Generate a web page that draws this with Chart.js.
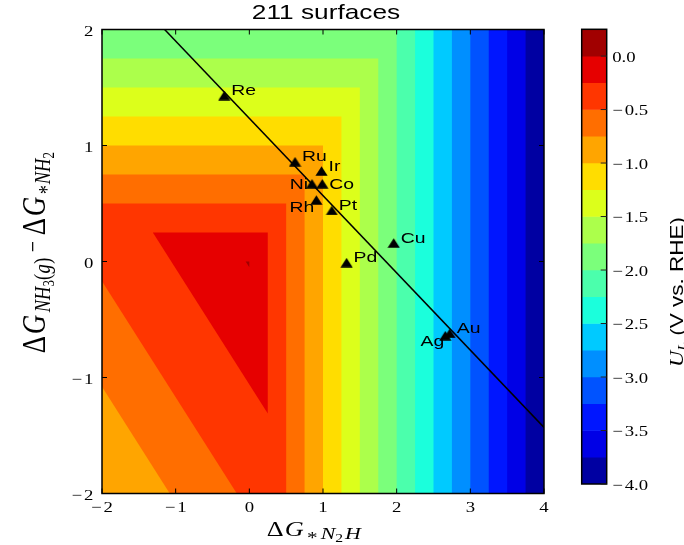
<!DOCTYPE html>
<html>
<head>
<meta charset="utf-8">
<script src="https://cdn.jsdelivr.net/npm/chart.js@4.4.1/dist/chart.umd.min.js"></script>
<style>
  html, body { margin: 0; background: #fff; }
  #wrap { position: relative; width: 684px; height: 545px; }
  #wrap canvas { position: absolute; left: 0; top: 0; }
</style>
</head>
<body>
<div id="wrap">
  <canvas id="main" width="684" height="545"></canvas>
  <canvas id="cbar" width="684" height="545"></canvas>
</div>
<script>
// ---------- data ----------
const metals = ["Re", "Ru", "Ir", "Ni", "Co", "Rh", "Pt", "Cu", "Pd", "Au", "Ag"];
const dG_N2H = [-0.34, 0.62, 0.98, 0.85, 0.99, 0.91, 1.12, 1.96, 1.32, 2.72, 2.66];
const dG_NH3 = [1.43, 0.86, 0.78, 0.67, 0.67, 0.53, 0.44, 0.16, -0.01, -0.62, -0.64];

// scaling line
const scalingX = [-1.15, 4];
const scalingY = [2, -1.43];

// contour levels of U_L, top of the colorbar first
const levels = [0.25, 0, -0.25, -0.5, -0.75, -1, -1.25, -1.5, -1.75, -2,
                -2.25, -2.5, -2.75, -3, -3.25, -3.5, -3.75, -4];
// the diagonal contour edges in the lower left (value of x+y where they sit)
const diagLevels = [0, -0.25, -0.5, -0.75];
const diagEdges = [-0.05, -1.06, -2.17, -3.08];

const xRange = [-2, 4];
const yRange = [-2, 2];
const xTicks = [-2, -1, 0, 1, 2, 3, 4];
const yTicks = [-2, -1, 0, 1, 2];
const cbTicks = [0, -0.5, -1, -1.5, -2, -2.5, -3, -3.5, -4];

// jet colours of the 17 bands, top (0..0.25) to bottom (-4..-3.75)
const bandColors = ["#a10000", "#e60000", "#ff3600", "#ff6e00", "#ffa500", "#ffdd00",
  "#dcff1b", "#acff4b", "#7bff7b", "#4bffac", "#1bffdc", "#00caff", "#008fff",
  "#0053ff", "#0016ff", "#0000e6", "#0000a2"];

const SERIF = '"Liberation Serif", "Times New Roman", serif';
const SANS = '"Liberation Sans", Arial, sans-serif';
const SX = 1.25; // the figure's text is drawn a bit wide

// ---------- helpers ----------
function clipPoly(poly, a, b, c) { // keep a*x + b*y <= c
  const out = [];
  for (let i = 0; i < poly.length; i++) {
    const p = poly[i], q = poly[(i + 1) % poly.length];
    const fp = a * p.x + b * p.y - c, fq = a * q.x + b * q.y - c;
    if (fp <= 0) out.push(p);
    if ((fp < 0 && fq > 0) || (fp > 0 && fq < 0)) {
      const t = fp / (fp - fq);
      out.push({ x: p.x + t * (q.x - p.x), y: p.y + t * (q.y - p.y) });
    }
  }
  return out;
}

// region where U_L >= lower edge of band k
function bandPolygon(k) {
  const L = levels[k + 1];
  let poly = [
    { x: xRange[0], y: yRange[0] }, { x: xRange[1], y: yRange[0] },
    { x: xRange[1], y: yRange[1] }, { x: xRange[0], y: yRange[1] }
  ];
  poly = clipPoly(poly, 1, 0, -L);
  poly = clipPoly(poly, 0, 1, -L);
  const i = diagLevels.indexOf(L);
  if (i >= 0) poly = clipPoly(poly, -1, -1, -diagEdges[i]);
  return poly;
}

// draw a run of text pieces; rotated runs read bottom-to-top
// p.at = fixed offset along the run (in run units) for math layout
function drawRun(ctx, x, y, pieces, opts = {}) {
  ctx.save();
  let total = 0;
  for (const p of pieces) {
    ctx.font = p.font;
    if (p.at !== undefined) total = p.at;
    total += ctx.measureText(p.text).width + (p.gap || 0);
  }
  ctx.translate(x, y);
  if (opts.rotate) {
    if (opts.along) { ctx.rotate(-Math.PI / 2); ctx.scale(SX, 1); }
    else { ctx.scale(SX, 1); ctx.rotate(-Math.PI / 2); }
  } else {
    ctx.scale(SX, 1);
  }
  let start = 0;
  if (opts.align === "center") start = -total / 2;
  if (opts.align === "right") start = -total;
  let cx = start;
  ctx.fillStyle = "#000";
  ctx.textBaseline = "alphabetic";
  ctx.textAlign = "left";
  for (const p of pieces) {
    ctx.font = p.font;
    if (p.at !== undefined) cx = start + p.at;
    ctx.fillText(p.text, cx, p.dy || 0);
    cx += ctx.measureText(p.text).width + (p.gap || 0);
  }
  ctx.restore();
}

function numPieces(v, digits) {
  const s = Math.abs(v).toFixed(digits);
  const f = "15px " + SERIF;
  if (v < 0) return [{ text: "\u2212", font: f, gap: 1.5 }, { text: s, font: f }];
  return [{ text: s, font: f }];
}

// triangle marker, a bit wider than tall like the figure
const tri = document.createElement("canvas");
tri.width = 13; tri.height = 10;
const tctx = tri.getContext("2d");
tctx.beginPath();
tctx.moveTo(6.5, 0.3); tctx.lineTo(12.6, 9.7); tctx.lineTo(0.4, 9.7);
tctx.closePath();
tctx.fillStyle = "#000";
tctx.fill();

const labelPlace = {
  Ni: { dx: -4, dy: 0, align: "right" },
  Co: { dx: 7, dy: 0, align: "left" },
  Rh: { dx: -2, dy: 6, align: "right" },
  Ag: { dx: -1, dy: 5, align: "right" }
};

// ---------- main plot ----------
const contourPlugin = {
  id: "contour",
  beforeDatasetsDraw(chart) {
    const ctx = chart.ctx;
    ctx.save();
    for (let k = bandColors.length - 1; k >= 0; k--) {
      const pts = chart.getDatasetMeta(k).data;
      if (pts.length < 3) continue;
      ctx.beginPath();
      pts.forEach((p, i) => i ? ctx.lineTo(p.x, p.y) : ctx.moveTo(p.x, p.y));
      ctx.closePath();
      ctx.fillStyle = bandColors[k];
      ctx.fill();
    }
    ctx.restore();
  },
  afterDatasetsDraw(chart) {
    const ctx = chart.ctx;
    const a = chart.chartArea;
    const xs = chart.scales.x, ys = chart.scales.y;
    ctx.save();
    ctx.strokeStyle = "#000";
    ctx.lineWidth = 1.5;
    ctx.strokeRect(a.left, a.top, a.right - a.left, a.bottom - a.top);
    ctx.lineWidth = 1;
    ctx.beginPath();
    xTicks.forEach(v => {
      const px = xs.getPixelForValue(v);
      ctx.moveTo(px, a.bottom); ctx.lineTo(px, a.bottom - 5);
      ctx.moveTo(px, a.top); ctx.lineTo(px, a.top + 5);
    });
    yTicks.forEach(v => {
      const py = ys.getPixelForValue(v);
      ctx.moveTo(a.left, py); ctx.lineTo(a.left + 5, py);
      ctx.moveTo(a.right, py); ctx.lineTo(a.right - 5, py);
    });
    ctx.stroke();
    ctx.restore();

    // metal labels
    const idx = chart.data.datasets.findIndex(d => d.label === "metals");
    const pts = chart.getDatasetMeta(idx).data;
    pts.forEach((p, i) => {
      const pl = labelPlace[metals[i]] || { dx: 7, dy: -6, align: "left" };
      drawRun(ctx, p.x + pl.dx, p.y + pl.dy + 5.6,
        [{ text: metals[i], font: "15.5px " + SANS }], { align: pl.align });
    });
  },
  afterDraw(chart) {
    const ctx = chart.ctx;
    const a = chart.chartArea;
    const xs = chart.scales.x, ys = chart.scales.y;
    xTicks.forEach(v => drawRun(ctx, xs.getPixelForValue(v), 511.5, numPieces(v, 0), { align: "center" }));
    yTicks.forEach(v => drawRun(ctx, a.left - 8.7, ys.getPixelForValue(v) + 6, numPieces(v, 0), { align: "right" }));

    drawRun(ctx, (a.left + a.right) / 2 + 3, 19.3,
      [{ text: "211 surfaces", font: "21px " + SANS }], { align: "center" });

    const it = s => "italic " + s + "px " + SERIF;
    const up = s => s + "px " + SERIF;
    // x title
    drawRun(ctx, 266.7, 536, [
      { text: "\u0394", font: up(21), gap: 1 },
      { text: "G", font: it(21), gap: 2.5 },
      { text: "*", font: up(17), dy: 6.8, gap: 2.5 },
      { text: "N", font: it(17.5), dy: 3.3 },
      { text: "2", font: up(12.5), dy: 5.8, gap: 1.5 },
      { text: "H", font: it(17.5), dy: 3.3 }
    ]);

    // y title, reads bottom to top
    drawRun(ctx, 45, 353.3, [
      { text: "\u0394", font: up(27), at: 0 },
      { text: "G", font: it(27), at: 19 },
      { text: "NH", font: it(18.5), dy: 4, at: 41 },
      { text: "3", font: up(13), dy: 7.5 },
      { text: "(", font: up(18.5), dy: 4, gap: 0.5 },
      { text: "g", font: it(18.5), dy: 4, gap: 0.5 },
      { text: ")", font: up(18.5), dy: 4 },
      { text: "\u2212", font: up(20), dy: -3.5, at: 101 },
      { text: "\u0394", font: up(27), at: 118 },
      { text: "G", font: it(27), at: 137 },
      { text: "*", font: up(18.5), dy: 7.5, at: 159 },
      { text: "NH", font: it(18.5), dy: 4, at: 169 },
      { text: "2", font: up(13), dy: 7.5 }
    ], { rotate: true });
  }
};

const polyDatasets = bandColors.map((c, k) => ({
  label: "band" + k,
  data: bandPolygon(k),
  backgroundColor: c,
  showLine: false,
  pointRadius: 0
}));

new Chart(document.getElementById("main"), {
  type: "scatter",
  data: {
    datasets: [
      ...polyDatasets,
      {
        label: "scaling",
        data: scalingX.map((x, i) => ({ x, y: scalingY[i] })),
        showLine: true,
        borderColor: "#000",
        borderWidth: 1.5,
        pointRadius: 0
      },
      {
        label: "metals",
        data: metals.map((m, i) => ({ x: dG_N2H[i], y: dG_NH3[i] })),
        pointStyle: tri,
        pointRadius: 6,
        backgroundColor: "#000"
      }
    ]
  },
  options: {
    responsive: false,
    animation: false,
    events: [],
    layout: { padding: { left: 0, top: 29.5, right: 140, bottom: 0 } },
    plugins: { legend: { display: false }, tooltip: { enabled: false } },
    scales: {
      x: {
        type: "linear", min: xRange[0], max: xRange[1],
        afterBuildTicks: s => { s.ticks = xTicks.map(v => ({ value: v })); },
        afterFit: s => { s.height = 51.5; },
        ticks: { display: false }, grid: { display: false }, border: { display: false }
      },
      y: {
        type: "linear", min: yRange[0], max: yRange[1],
        afterBuildTicks: s => { s.ticks = yTicks.map(v => ({ value: v })); },
        afterFit: s => { s.width = 102; },
        ticks: { display: false }, grid: { display: false }, border: { display: false }
      }
    }
  },
  plugins: [contourPlugin]
});

// ---------- colorbar ----------
const cbarPlugin = {
  id: "cbarFrame",
  afterDraw(chart) {
    const ctx = chart.ctx;
    const a = chart.chartArea;
    const ys = chart.scales.y;
    ctx.save();
    ctx.strokeStyle = "#000";
    ctx.lineWidth = 1.5;
    ctx.strokeRect(a.left, a.top, a.right - a.left, a.bottom - a.top);
    ctx.lineWidth = 1;
    ctx.strokeStyle = "#222";
    ctx.beginPath();
    cbTicks.forEach(v => {
      const py = ys.getPixelForValue(v);
      ctx.moveTo(a.right, py); ctx.lineTo(a.right - 6, py);
    });
    ctx.stroke();
    ctx.restore();
    cbTicks.forEach(v => drawRun(ctx, a.right + 5.5, ys.getPixelForValue(v) + 5.7, numPieces(v, 1)));
    drawRun(ctx, 682.5, 367, [
      { text: "U", font: "italic 18px " + SERIF },
      { text: "L", font: "italic 12.5px " + SERIF, dy: 3 },
      { text: " (V vs. RHE)", font: "18px " + SANS }
    ], { rotate: true, along: true });
  }
};

new Chart(document.getElementById("cbar"), {
  type: "bar",
  data: {
    labels: ["UL"],
    datasets: bandColors.map((c, k) => ({
      data: [[levels[k + 1], levels[k]]],
      backgroundColor: c,
      borderWidth: 0,
      grouped: false,
      barPercentage: 1,
      categoryPercentage: 1
    }))
  },
  options: {
    responsive: false,
    animation: false,
    events: [],
    layout: { padding: { left: 581.7, top: 29.3, right: 77.3, bottom: 61 } },
    plugins: { legend: { display: false }, tooltip: { enabled: false } },
    scales: {
      x: { display: false },
      y: { display: false, min: levels[levels.length - 1], max: levels[0] }
    }
  },
  plugins: [cbarPlugin]
});
</script>
</body>
</html>
